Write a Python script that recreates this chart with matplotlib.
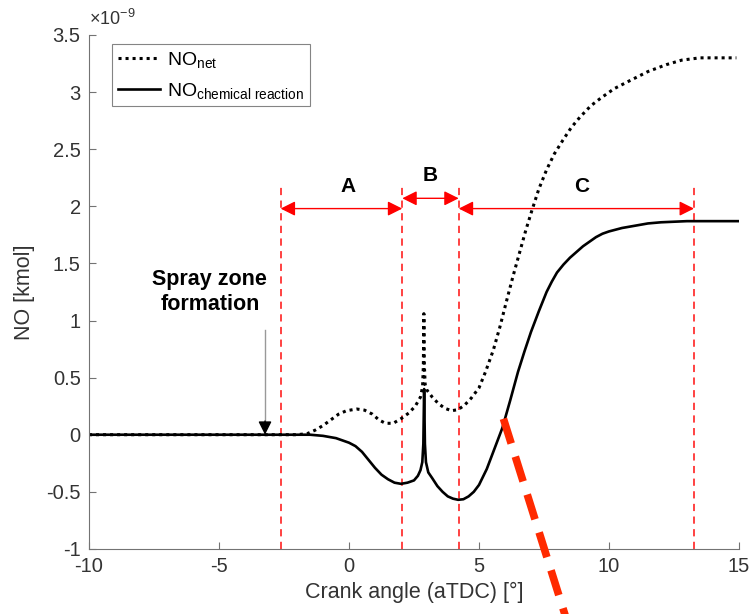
"""NO history vs crank angle with spray-zone phases A/B/C."""
import numpy as np
import matplotlib
matplotlib.use('Agg')
import matplotlib.pyplot as plt
from matplotlib.ticker import FuncFormatter

plt.rcParams['font.family'] = ['Liberation Sans', 'DejaVu Sans']
plt.rcParams['mathtext.fontset'] = 'custom'
plt.rcParams['mathtext.rm'] = 'Liberation Sans'
plt.rcParams['mathtext.it'] = 'Liberation Sans:italic'

# NO net (x1e-9 kmol)
net_ca = [-10, -2.0, -1.6, -1.3, -1.0, -0.7, -0.4, -0.1, 0.3, 0.6, 0.9, 1.15, 1.4, 1.7, 2.0,
          2.3, 2.55, 2.75, 2.83, 2.86, 2.88, 2.9, 2.93, 3.0, 3.2, 3.45, 3.7, 3.95, 4.2, 4.45,
          4.7, 5.0, 5.25, 5.55, 5.8, 6.07, 6.3, 6.58, 6.8, 7.03, 7.3, 7.6, 7.9, 8.23, 8.55,
          8.88, 9.3, 9.7, 10.2, 10.8, 11.5, 12.2, 12.8, 13.5, 14.9]
net_no = [0, 0, 0.01, 0.04, 0.08, 0.13, 0.18, 0.21, 0.225, 0.215, 0.18, 0.13, 0.10, 0.10, 0.14,
          0.19, 0.25, 0.33, 0.42, 0.60, 1.06, 0.60, 0.44, 0.39, 0.33, 0.27, 0.23, 0.21, 0.22, 0.26,
          0.32, 0.41, 0.55, 0.74, 0.94, 1.18, 1.38, 1.61, 1.79, 1.96, 2.15, 2.32, 2.46, 2.58, 2.69,
          2.78, 2.88, 2.95, 3.03, 3.10, 3.18, 3.24, 3.28, 3.30, 3.30]

# NO from chemical reaction (x1e-9 kmol)
chem_ca = [-10, -1.5, -1.0, -0.5, -0.25, 0.0, 0.25, 0.5, 0.75, 1.0, 1.25, 1.5, 1.75, 2.0, 2.25,
           2.5, 2.65, 2.75, 2.82, 2.86, 2.89, 2.92, 2.96, 3.05, 3.2, 3.4, 3.6, 3.8, 4.0, 4.2,
           4.4, 4.6, 4.8, 5.0, 5.3, 5.6, 5.9, 6.2, 6.5, 6.75, 7.0, 7.3, 7.6, 7.8, 8.0, 8.25,
           8.5, 8.75, 9.0, 9.25, 9.5, 9.75, 10.0, 10.5, 11.0, 11.5, 12.0, 13.0, 15.0]
chem_no = [0, 0, -0.01, -0.03, -0.05, -0.07, -0.10, -0.15, -0.22, -0.29, -0.35, -0.39, -0.42, -0.43, -0.42,
           -0.40, -0.36, -0.31, -0.24, -0.08, 0.40, -0.08, -0.24, -0.33, -0.38, -0.45, -0.50, -0.54, -0.56, -0.57,
           -0.565, -0.54, -0.50, -0.44, -0.30, -0.12, 0.06, 0.30, 0.55, 0.73, 0.90, 1.08, 1.25, 1.34, 1.42, 1.49,
           1.55, 1.60, 1.65, 1.69, 1.73, 1.76, 1.78, 1.81, 1.83, 1.85, 1.86, 1.87, 1.87]

phase_bounds = [-2.63, 2.05, 4.22, 13.27]
phase_names = ['A', 'B', 'C']
spray_ca = -3.23


def plot_no_history(path='out.png'):
    fig = plt.figure(figsize=(7.51, 6.14), dpi=100)
    ax = fig.add_axes([0.1185, 0.106, 0.8655, 0.837])

    ax.plot(net_ca, net_no, color='black', lw=2.2, ls=(0, (1, 1.3)), label='NO$_\\mathrm{net}$')
    ax.plot(chem_ca, chem_no, color='black', lw=1.9, label='NO$_\\mathrm{chemical\\ reaction}$')

    # phase boundaries
    for xb in phase_bounds:
        ax.plot([xb, xb], [-1, 2.2], color='#ff3333', lw=1.3, ls=(0, (4, 3)), zorder=1)

    arrow_y = [1.98, 2.07, 1.98]
    label_pos = [(-0.04, 2.17), (3.12, 2.27), (8.95, 2.17)]
    for i, name in enumerate(phase_names):
        ax.annotate('', xy=(phase_bounds[i+1], arrow_y[i]), xytext=(phase_bounds[i], arrow_y[i]),
                    arrowprops=dict(arrowstyle='<|-|>', color='red', lw=1.0,
                                    mutation_scale=22, shrinkA=0, shrinkB=0))
        ax.text(*label_pos[i], name, fontsize=15, fontweight='bold', ha='center', va='center')

    # spray zone formation marker
    ax.plot([spray_ca, spray_ca], [0.92, 0.08], color='0.6', lw=1.0)
    ax.annotate('', xy=(spray_ca, 0.0), xytext=(spray_ca, 0.12),
                arrowprops=dict(arrowstyle='-|>', color='black', lw=1.0,
                                mutation_scale=20, shrinkA=0, shrinkB=0))
    ax.text(-5.35, 1.25, 'Spray zone\nformation', fontsize=15.5, fontweight='bold',
            ha='center', va='center', linespacing=1.25)

    # highlight dashed line running out of the axes
    ax.plot([5.94, 8.45], [0.14, -1.68], color='#ff2a00', lw=5.5, ls=(0, (3.4, 1.8)),
            clip_on=False, solid_capstyle='butt', zorder=5)

    ax.set_xlim(-10, 15)
    ax.set_ylim(-1, 3.5)
    ax.set_xticks(np.arange(-10, 16, 5))
    ax.set_yticks(np.arange(-1, 3.6, 0.5))
    ax.yaxis.set_major_formatter(FuncFormatter(lambda v, p: f'{v:g}'))
    ax.xaxis.set_major_formatter(FuncFormatter(lambda v, p: f'{v:g}'))
    for s in ['top', 'right']:
        ax.spines[s].set_visible(False)
    for s in ['left', 'bottom']:
        ax.spines[s].set_color('0.45')
        ax.spines[s].set_linewidth(0.8)
    ax.tick_params(direction='in', length=5, width=0.8, color='0.45', labelcolor='0.2',
                   labelsize=14.5, pad=6)
    ax.set_xlabel('Crank angle (aTDC) [°]', fontsize=15.5, color='0.2', labelpad=4)
    ax.set_ylabel('NO [kmol]', fontsize=15.5, color='0.2', labelpad=8)
    ax.text(0.0, 1.012, '×10$^{-9}$', transform=ax.transAxes, fontsize=13, color='0.2',
            ha='left', va='bottom')

    leg = ax.legend(loc='upper left', bbox_to_anchor=(0.035, 0.9825), fontsize=14,
                    handlelength=2.2, handletextpad=0.35, frameon=True, fancybox=False,
                    borderaxespad=0, borderpad=0.3, labelspacing=0.55)
    leg.get_frame().set_edgecolor('0.4')
    leg.get_frame().set_linewidth(0.8)

    fig.savefig(path, dpi=100)
    plt.close(fig)


if __name__ == '__main__':
    plot_no_history()
